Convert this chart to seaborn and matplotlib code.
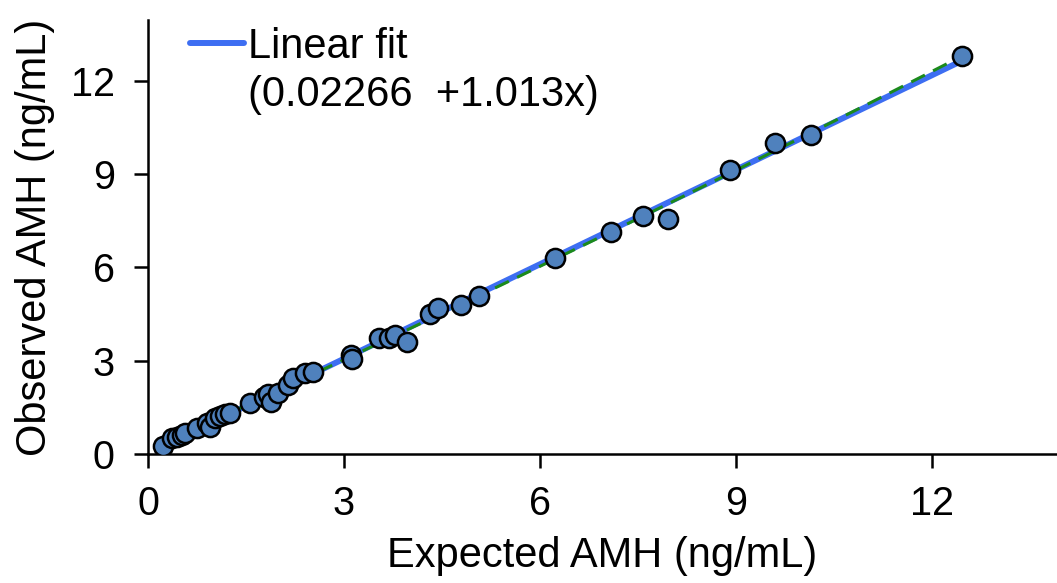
import numpy as np
import pandas as pd
import matplotlib
matplotlib.use("Agg")
import matplotlib.pyplot as plt
from matplotlib.lines import Line2D
import seaborn as sns

# ---- data ----
expected = [0.23, 0.36, 0.44, 0.52, 0.57, 0.75, 0.90, 0.95, 1.03, 1.10, 1.18, 1.26,
            1.56, 1.77, 1.84, 1.89, 1.99, 2.15, 2.22, 2.40, 2.53,
            3.10, 3.12, 3.53, 3.69, 3.78, 3.96,
            4.32, 4.44, 4.79, 5.06,
            6.23, 7.09, 7.58, 7.95,
            8.91, 9.60, 10.15, 12.46]
observed = [0.26, 0.50, 0.56, 0.61, 0.67, 0.83, 1.01, 0.88, 1.15, 1.22, 1.29, 1.31,
            1.63, 1.84, 1.93, 1.68, 1.95, 2.21, 2.43, 2.59, 2.63,
            3.18, 3.05, 3.72, 3.72, 3.83, 3.61,
            4.50, 4.68, 4.79, 5.08,
            6.29, 7.15, 7.65, 7.56,
            9.13, 10.01, 10.26, 12.80]
fit_intercept = 0.02266
fit_slope = 1.013
x_ticks = [0, 3, 6, 9, 12]
y_ticks = [0, 3, 6, 9, 12]
x_label = "Expected AMH (ng/mL)"
y_label = "Observed AMH (ng/mL)"
legend_labels = ["Linear fit", "(0.02266  +1.013x)"]

sns.set_theme(style="ticks")
plt.rcParams['font.family'] = ['Liberation Sans', 'DejaVu Sans']
plt.rcParams['text.color'] = 'black'
plt.rcParams['axes.labelcolor'] = 'black'
plt.rcParams['xtick.color'] = 'black'
plt.rcParams['ytick.color'] = 'black'

df = pd.DataFrame({"Expected": expected, "Observed": observed})

fig = plt.figure(figsize=(10.57, 5.83), dpi=100)
ax = fig.add_axes([0.140, 0.2213, 0.86, 0.7444])

xs = np.linspace(df["Expected"].min(), df["Expected"].max(), 100)
fit_df = pd.DataFrame({"x": xs, "y": fit_intercept + fit_slope * xs})
sns.lineplot(data=fit_df, x="x", y="y", ax=ax, color="#3D6EF2", lw=4.3,
             zorder=2, legend=False)
sns.regplot(data=df, x="Expected", y="Observed", order=2, ci=None, scatter=False,
            truncate=True, ax=ax,
            line_kws=dict(color="#1B8A1B", lw=2.2, ls=(0, (5, 3)), zorder=3))
sns.scatterplot(data=df, x="Expected", y="Observed", ax=ax, s=190,
                color="#4F81BD", edgecolor="black", linewidth=1.8, zorder=4,
                legend=False)

ax.set_xlim(0, 13.91)
ax.set_ylim(0, 13.95)
ax.set_xticks(x_ticks)
ax.set_yticks(y_ticks)
ax.set_xticklabels([str(t) for t in x_ticks])
ax.set_yticklabels([str(t) for t in y_ticks])
ax.set_xlabel(x_label, fontsize=30, labelpad=10, color="black")
ax.set_ylabel(y_label, fontsize=30, labelpad=11, color="black")
ax.tick_params(axis="both", direction="out", length=10, width=1.8,
               labelsize=28.5, colors="black")
ax.tick_params(axis="x", pad=12)
ax.tick_params(axis="y", pad=14)
sns.despine(ax=ax)
for s in ["left", "bottom"]:
    ax.spines[s].set_linewidth(1.8)
    ax.spines[s].set_color("black")

handles = [Line2D([], [], color="#3D6EF2", lw=4.3, solid_capstyle="round"),
           Line2D([], [], color="none")]
leg = ax.legend(handles, legend_labels, loc="upper left", bbox_to_anchor=(0.046, 0.985),
                frameon=False, fontsize=30, handlelength=1.3, handletextpad=0.1,
                labelspacing=0.2, borderpad=0, borderaxespad=0)
for t in leg.get_texts():
    t.set_color("black")

fig.savefig("out.png", dpi=100)
